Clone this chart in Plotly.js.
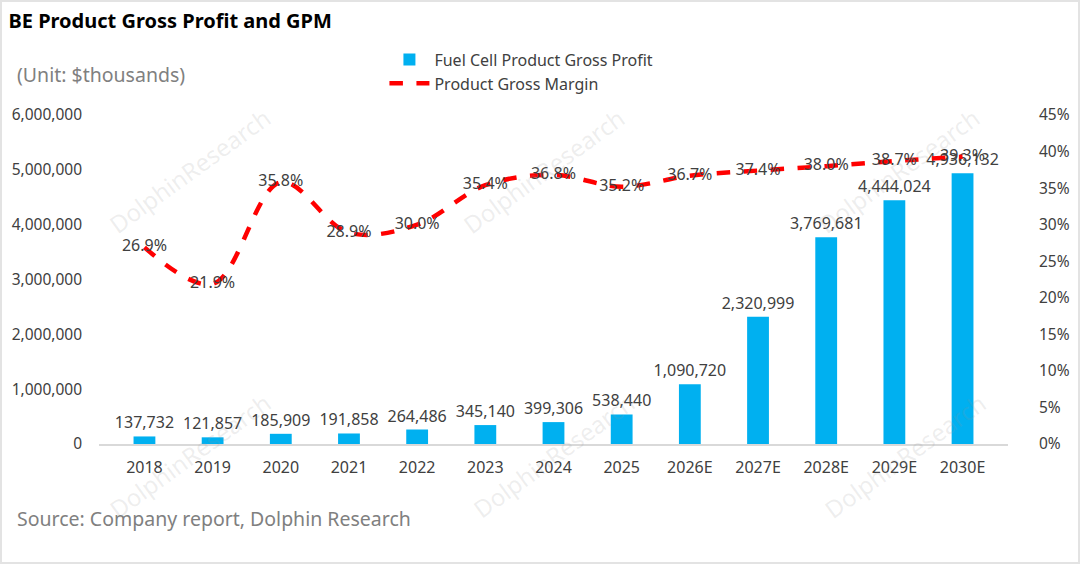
<!DOCTYPE html>
<html>
<head>
<meta charset="utf-8">
<script src="https://cdn.plot.ly/plotly-3.0.1.min.js"></script>
<style>
  body { margin: 0; background: #fff; }
  #plot { width: 1076px; height: 560px; border: 2px solid #e3e3e3; }
</style>
</head>
<body>
<div id="plot"></div>
<script>
// categories and values
var years = ["2018", "2019", "2020", "2021", "2022", "2023", "2024", "2025",
             "2026E", "2027E", "2028E", "2029E", "2030E"];
var grossProfit = [137732, 121857, 185909, 191858, 264486, 345140, 399306, 538440,
                   1090720, 2320999, 3769681, 4444024, 4936132];
var grossMargin = [0.269, 0.219, 0.358, 0.289, 0.300, 0.354, 0.368, 0.352,
                   0.367, 0.374, 0.380, 0.387, 0.393];

var bars = {
  x: years,
  y: grossProfit,
  type: "bar",
  name: "Fuel Cell Product Gross Profit",
  marker: { color: "#00b0f0" },
  texttemplate: "%{y:,}",
  textposition: "outside",
  constraintext: "none",
  cliponaxis: false,
  textfont: { size: 16, color: "#404040" }
};

var line = {
  x: years,
  y: grossMargin,
  yaxis: "y2",
  type: "scatter",
  mode: "lines+text",
  name: "Product Gross Margin",
  line: { color: "#ff0000", width: 4.5, dash: "dash", shape: "spline", smoothing: 1 },
  texttemplate: "%{y:.1%}",
  textposition: "middle center",
  cliponaxis: false,
  textfont: { size: 16, color: "#404040" }
};

// faint watermarks
var marks = [
  [0.10, 0.83], [0.49, 0.83], [0.88, 0.83],
  [0.10, -0.035], [0.50, -0.035], [0.887, -0.035]
];
var annos = marks.map(function (m) {
  return {
    text: "DolphinResearch", xref: "paper", yref: "paper", x: m[0], y: m[1],
    xanchor: "center", yanchor: "middle",
    showarrow: false, textangle: -36,
    font: { size: 24, color: "rgba(150,150,150,0.16)" }
  };
});
annos.push({
  text: "(Unit: $thousands)", xref: "paper", yref: "paper", x: -0.092, y: 1.17,
  xanchor: "left", showarrow: false, font: { size: 19.5, color: "#808080" }
});
annos.push({
  text: "Source: Company report, Dolphin Research", xref: "paper", yref: "paper",
  x: -0.092, y: -0.275, xanchor: "left", showarrow: false,
  font: { size: 19.5, color: "#808080" }
});

var layout = {
  width: 1076,
  height: 560,
  margin: { l: 97, r: 70, t: 113, b: 118 },
  paper_bgcolor: "#ffffff",
  plot_bgcolor: "#ffffff",
  font: { family: "Noto Sans, sans-serif", color: "#404040" },
  title: {
    text: "<b>BE Product Gross Profit and GPM</b>",
    x: 0.006, xanchor: "left", y: 0.966, yanchor: "middle",
    font: { size: 20, color: "#000000" }
  },
  showlegend: true,
  legend: {
    x: 0.314, y: 1.22, xanchor: "left", yanchor: "top",
    font: { size: 16, color: "#404040" },
    tracegroupgap: 0, itemwidth: 40
  },
  bargap: 0.68,
  xaxis: {
    type: "category",
    tickfont: { size: 16, color: "#404040" },
    showline: true, linecolor: "#d9d9d9", linewidth: 1.5,
    ticks: "", ticklabelstandoff: 8
  },
  yaxis: {
    range: [0, 6000000], dtick: 1000000, tickformat: ",",
    showgrid: false, zeroline: false,
    tickfont: { size: 15.5, color: "#404040" },
    ticklabelstandoff: 16
  },
  yaxis2: {
    overlaying: "y", side: "right",
    range: [0, 0.45], dtick: 0.05, tickformat: ".0%",
    showgrid: false, zeroline: false,
    tickfont: { size: 15.5, color: "#404040" },
    ticklabelstandoff: 30
  },
  annotations: annos
};

Plotly.newPlot("plot", [bars, line], layout, { displayModeBar: false });
</script>
</body>
</html>
